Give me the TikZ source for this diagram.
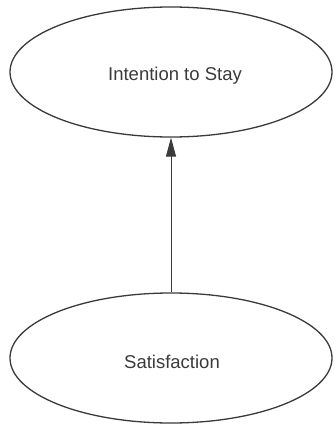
\documentclass[tikz,border=0pt]{standalone}
\usepackage{fontspec}
\setmainfont{Liberation Sans}
\usetikzlibrary{shapes.geometric,arrows.meta}
\definecolor{inkgray}{HTML}{3A3A3A}
\begin{document}
\begin{tikzpicture}[x=1pt,y=-1pt,
  construct/.style={ellipse,draw=inkgray,line width=1.3pt,
    minimum width=322pt,minimum height=130pt,inner sep=0pt,
    text=inkgray,font=\fontsize{18.5}{21}\selectfont},
  caption/.style={text=inkgray,font=\fontsize{18.5}{21}\selectfont},
  link/.style={draw=inkgray,line width=1pt,
    -{Triangle[length=19pt,width=10pt]}}]
\useasboundingbox (0,0) rectangle (335,425);
\node[construct] (stay) at (171,72) {};
\node[construct] (sat) at (171,358) {};
\node[caption] (stayname) at (175,76) {Intention to Stay};
\node[caption] (satname) at (172,362) {Satisfaction};
\draw[link] (sat) -- (stay);
\end{tikzpicture}
\end{document}
